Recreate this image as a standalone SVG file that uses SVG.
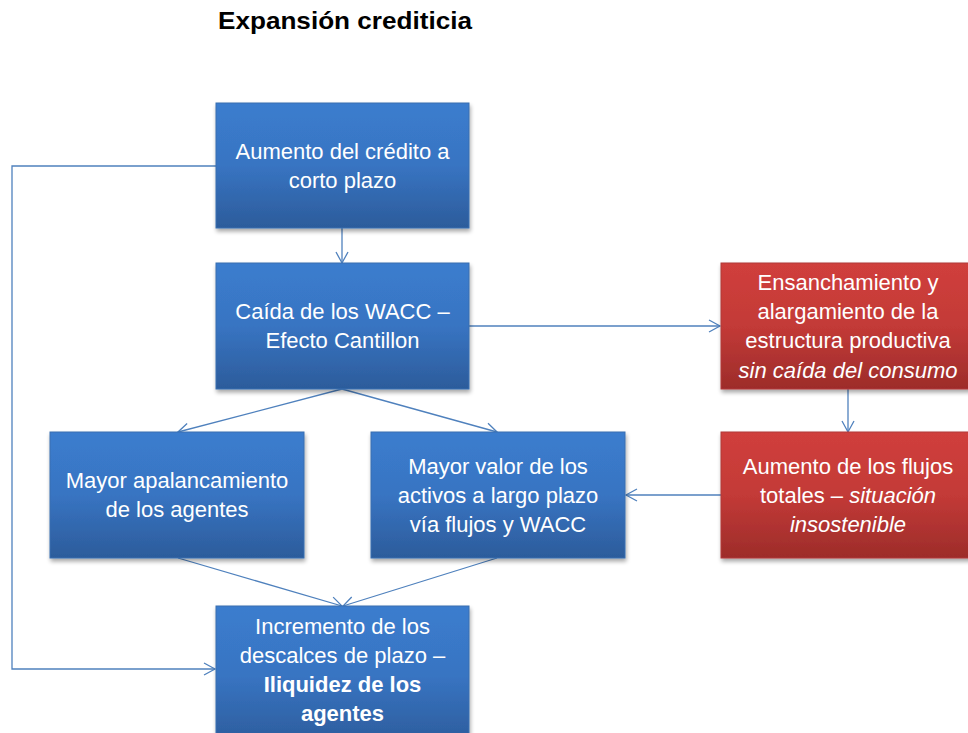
<svg xmlns="http://www.w3.org/2000/svg" width="968" height="733" viewBox="0 0 968 733">
<style>
.t{font-family:"Liberation Sans",Arial,sans-serif;font-size:22px;fill:#fff;text-anchor:middle}
.i{font-style:italic}
.b{font-weight:bold}
.title{font-family:"Liberation Sans",Arial,sans-serif;font-size:24px;font-weight:bold;fill:#000}
.blue{fill:url(#gb);stroke:#3a6fb0;stroke-width:1;filter:url(#sh)}
.red{fill:url(#gr);stroke:#b03a38;stroke-width:1;filter:url(#sh)}
.c{fill:none;stroke:#4f81bd;stroke-width:1.3}
</style>
<defs>
<linearGradient id="gb" x1="0" y1="0" x2="0" y2="1">
<stop offset="0" stop-color="#3b7dce"/>
<stop offset="0.5" stop-color="#3874c2"/>
<stop offset="1" stop-color="#2c5c9b"/>
</linearGradient>
<linearGradient id="gr" x1="0" y1="0" x2="0" y2="1">
<stop offset="0" stop-color="#d03f3c"/>
<stop offset="0.5" stop-color="#c33a37"/>
<stop offset="1" stop-color="#9d2c2a"/>
</linearGradient>
<filter id="sh" x="-10%" y="-10%" width="120%" height="130%">
<feGaussianBlur in="SourceAlpha" stdDeviation="2"/>
<feOffset dx="1" dy="3" result="o"/>
<feComponentTransfer><feFuncA type="linear" slope="0.35"/></feComponentTransfer>
<feMerge><feMergeNode/><feMergeNode in="SourceGraphic"/></feMerge>
</filter>
<marker id="ar" markerWidth="14" markerHeight="14" refX="12" refY="7" orient="auto" markerUnits="userSpaceOnUse">
<path d="M1,1 L12,7 L1,13" fill="none" stroke="#4f81bd" stroke-width="1.3"/>
</marker>
</defs>
<rect width="968" height="733" fill="#fff"/>
<text class="title" x="218" y="29" textLength="254" lengthAdjust="spacingAndGlyphs">Expansión crediticia</text>

<g id="connectors">
<path class="c" d="M216,166 H12 V669 H215" marker-end="url(#ar)"/>
<path class="c" d="M342,228 V263" marker-end="url(#ar)"/>
<path class="c" d="M469,326 H720" marker-end="url(#ar)"/>
<path class="c" d="M848,389 V432" marker-end="url(#ar)"/>
<path class="c" d="M721,495 H626" marker-end="url(#ar)"/>
<path class="c" d="M342,389 L178,432" marker-end="url(#ar)"/>
<path class="c" d="M342,389 L497,432" marker-end="url(#ar)"/>
<path class="c" d="M178,558 L342,606" marker-end="url(#ar)"/>
<path class="c" d="M497,558 L343,606" marker-end="url(#ar)"/>
</g>

<g id="n1">
<rect class="blue" x="216" y="103" width="253" height="125"/>
<text class="t" x="342.5" y="159">Aumento del crédito a</text>
<text class="t" x="342.5" y="188">corto plazo</text>
</g>
<g id="n2">
<rect class="blue" x="216" y="263" width="253" height="126"/>
<text class="t" x="342.5" y="319">Caída de los WACC –</text>
<text class="t" x="342.5" y="348">Efecto Cantillon</text>
</g>
<g id="n3">
<rect class="blue" x="50" y="432" width="254" height="126"/>
<text class="t" x="177" y="488">Mayor apalancamiento</text>
<text class="t" x="177" y="517">de los agentes</text>
</g>
<g id="n4">
<rect class="blue" x="371" y="432" width="254" height="126"/>
<text class="t" x="498" y="474">Mayor valor de los</text>
<text class="t" x="498" y="503">activos a largo plazo</text>
<text class="t" x="498" y="532">vía flujos y WACC</text>
</g>
<g id="n5">
<rect class="blue" x="216" y="606" width="253" height="140"/>
<text class="t" x="342.5" y="634">Incremento de los</text>
<text class="t" x="342.5" y="663">descalces de plazo –</text>
<text class="t b" x="342.5" y="692">Iliquidez de los</text>
<text class="t b" x="342.5" y="721">agentes</text>
</g>
<g id="r1">
<rect class="red" x="721" y="263" width="254" height="126"/>
<text class="t" x="848" y="290">Ensanchamiento y</text>
<text class="t" x="848" y="319">alargamiento de la</text>
<text class="t" x="848" y="348">estructura productiva</text>
<text class="t i" x="848" y="378">sin caída del consumo</text>
</g>
<g id="r2">
<rect class="red" x="721" y="432" width="254" height="126"/>
<text class="t" x="848" y="474">Aumento de los flujos</text>
<text class="t" x="848" y="503">totales – <tspan class="i">situación</tspan></text>
<text class="t i" x="848" y="532">insostenible</text>
</g>
</svg>
